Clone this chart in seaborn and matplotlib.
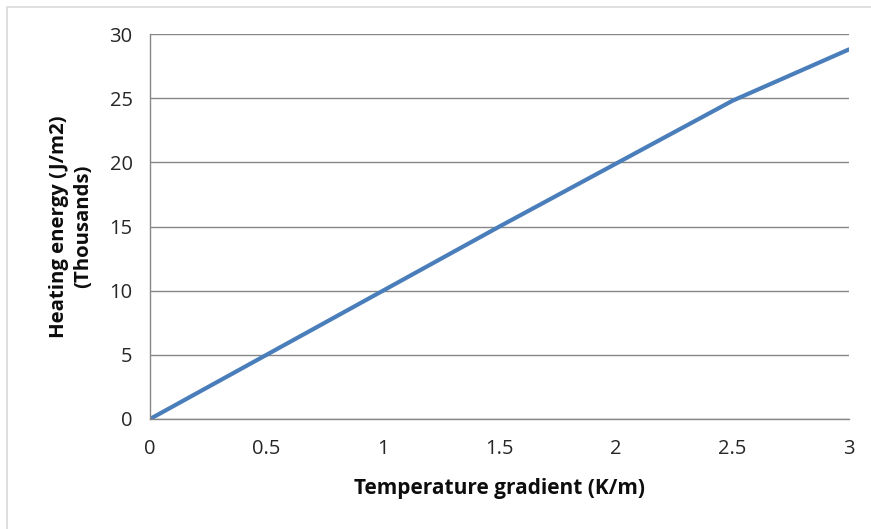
"""
Heating energy vs temperature gradient line chart.
"""

#Libraries
import pandas as pd
import matplotlib
matplotlib.use("Agg")
import matplotlib.pyplot as plt
import seaborn as sns
from matplotlib.patches import Rectangle

#Data
temp_gradient = [0, 0.5, 1, 1.5, 2, 2.5, 3]                       #K/m
heating_energy = [0, 5.0, 10.0, 15.0, 19.9, 24.8, 28.8]            #J/m2, thousands
x_ticks = [0, 0.5, 1, 1.5, 2, 2.5, 3]
x_tick_labels = ["0", "0.5", "1", "1.5", "2", "2.5", "3"]
y_ticks = [0, 5, 10, 15, 20, 25, 30]

df = pd.DataFrame({"gradient": temp_gradient, "energy": heating_energy})

sns.set_style("white")
plt.rcParams['font.family'] = ['Open Sans', 'DejaVu Sans']

W, H = 871, 529
fig = plt.figure(figsize=(W / 100, H / 100), dpi=100)
ax = fig.add_axes([150 / W, (H - 419) / H, 699 / W, 385 / H])

#Light chart border like the spreadsheet frame
fig.add_artist(Rectangle((7 / W, -0.1), 1.2, (1 - 7 / H) + 0.1,
                         transform=fig.transFigure, fill=False,
                         edgecolor="#D9D9D9", linewidth=1.2))

sns.lineplot(data=df, x="gradient", y="energy", ax=ax,
             color="#4A7EBB", linewidth=3.0, solid_capstyle="round")

ax.set_xlim(0, 3)
ax.set_ylim(0, 30)
ax.set_xticks(x_ticks)
ax.set_xticklabels(x_tick_labels)
ax.set_yticks(y_ticks)

#Horizontal gridlines only
ax.yaxis.grid(True, color="#878787", linewidth=1.0)
ax.xaxis.grid(False)
ax.set_axisbelow(True)

for side in ["top", "right"]:
    ax.spines[side].set_visible(False)
for side in ["left", "bottom"]:
    ax.spines[side].set_color("#878787")
    ax.spines[side].set_linewidth(1.0)

ax.tick_params(axis="both", direction="out", length=4.5, width=1.0,
               color="#878787", labelsize=14.5, labelcolor="#262626")
ax.tick_params(axis="x", pad=10)
ax.tick_params(axis="y", pad=8)

ax.set_xlabel("Temperature gradient (K/m)", fontsize=15, fontweight="bold",
              color="#0d0d0d")
ax.set_ylabel("Heating energy (J/m2)\n(Thousands)", fontsize=14.7,
              fontweight="bold", linespacing=1.3, color="#0d0d0d")
ax.xaxis.set_label_coords(0.5, -0.152)
ax.yaxis.set_label_coords(-0.081, 0.5)

fig.savefig("out.png", dpi=100)
